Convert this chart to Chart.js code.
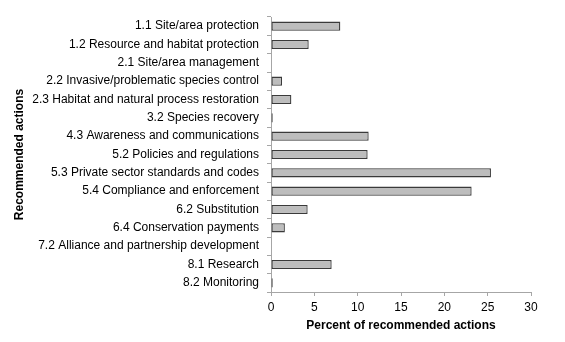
<!DOCTYPE html>
<html>
<head>
<meta charset="utf-8">
<script src="https://cdn.jsdelivr.net/npm/chart.js@4"></script>
<style>
  html, body { margin: 0; padding: 0; background: #fff; }
  #wrap { width: 565px; height: 342px; }
</style>
</head>
<body>
<div id="wrap"><canvas id="chart" width="565" height="342"></canvas></div>
<script>
const actions = [
    "1.1 Site/area protection",
    "1.2 Resource and habitat protection",
    "2.1 Site/area management",
    "2.2 Invasive/problematic species control",
    "2.3 Habitat and natural process restoration",
    "3.2 Species recovery",
    "4.3 Awareness and communications",
    "5.2 Policies and regulations",
    "5.3 Private sector standards and codes",
    "5.4 Compliance and enforcement",
    "6.2 Substitution",
    "6.4 Conservation payments",
    "7.2 Alliance and partnership development",
    "8.1 Research",
    "8.2 Monitoring"
];
const percents = [8.0, 4.35, 0, 1.27, 2.35, 0.2, 11.27, 11.15, 25.38, 23.15, 4.23, 1.6, 0, 7.0, 0.2];
const xTicks = [0, 5, 10, 15, 20, 25, 30];

const axisColor = "#a6a6a6";
const fontFam = "'Liberation Sans', Arial, sans-serif";

const ctx = document.getElementById("chart").getContext("2d");
new Chart(ctx, {
    type: "bar",
    data: {
        labels: actions,
        datasets: [{
            data: percents,
            backgroundColor: "#bdbdbd",
            borderColor: "#3a3a3a",
            borderWidth: 1.3,
            borderSkipped: false,
            barPercentage: 0.5,
            categoryPercentage: 1
        }]
    },
    options: {
        indexAxis: "y",
        responsive: false,
        animation: false,
        layout: { padding: { top: 17, right: 34, bottom: 5, left: 8 } },
        plugins: { legend: { display: false }, tooltip: { enabled: false } },
        scales: {
            x: {
                min: 0,
                max: 30,
                afterBuildTicks: s => { s.ticks = xTicks.map(v => ({ value: v })); },
                afterFit: s => { s.height = 45; },
                grid: { drawOnChartArea: false, color: axisColor, tickLength: 4 },
                border: { color: axisColor },
                ticks: { color: "#000", padding: 4, font: { family: fontFam, size: 12 } },
                title: {
                    display: true,
                    text: "Percent of recommended actions",
                    color: "#000",
                    padding: { top: 2, bottom: 4 },
                    font: { family: fontFam, size: 12, weight: "bold" }
                }
            },
            y: {
                afterFit: s => { s.width = 263; },
                grid: { drawOnChartArea: false, color: axisColor, tickLength: 4, offset: true },
                border: { color: axisColor },
                ticks: { color: "#000", padding: 8, autoSkip: false, font: { family: fontFam, size: 12 } },
                title: {
                    display: true,
                    text: "Recommended actions",
                    color: "#000",
                    padding: 4,
                    font: { family: fontFam, size: 12, weight: "bold" }
                }
            }
        }
    }
});
</script>
</body>
</html>
